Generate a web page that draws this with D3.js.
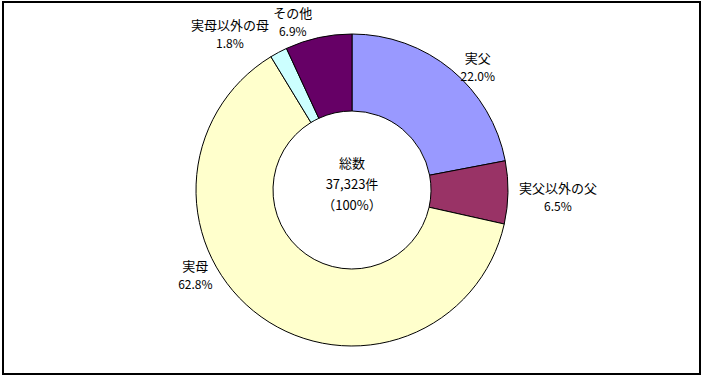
<!DOCTYPE html>
<html>
<head>
<meta charset="utf-8">
<script src="https://cdn.jsdelivr.net/npm/d3@7"></script>
<style>
body { margin: 0; background: #fff; }
svg text { font-family: "Noto Sans CJK JP", "Noto Sans", sans-serif; fill: #000; }
</style>
</head>
<body>
<svg id="chart" width="704" height="378"></svg>
<script>
// data
var categories = ['実父', '実父以外の父', '実母', '実母以外の母', 'その他'];
var percents = [22.0, 6.5, 62.8, 1.8, 6.9];
var colors = ['#9999FF', '#993366', '#FFFFCC', '#CCFFFF', '#660066'];
var totalLines = ['総数', '37,323件', '（100%）'];

var svg = d3.select('#chart');
var cx = 352, cy = 190, outerR = 156, innerR = 79;

svg.append('rect')
	.attr('x', 3).attr('y', 2)
	.attr('width', 697).attr('height', 372)
	.attr('fill', '#fff')
	.attr('stroke', '#000')
	.attr('stroke-width', 2);

var pie = d3.pie().sort(null).value(function(d){ return d; });
var arcs = pie(percents);
var arc = d3.arc().innerRadius(innerR).outerRadius(outerR);

var g = svg.append('g').attr('transform', 'translate(' + cx + ',' + cy + ')');

g.selectAll('path.slice')
	.data(arcs)
	.enter().append('path')
	.attr('class', 'slice')
	.attr('d', arc)
	.attr('fill', function(d, i){ return colors[i]; })
	.attr('stroke', '#000')
	.attr('stroke-width', 1);

// label placement: radius and angle nudge per slice (Excel moves them around a bit)
var labelR = [176, 206, 178, 198, 178];
var angleShift = [6, 1, 26, -10, -7];

var labels = g.selectAll('g.label')
	.data(arcs)
	.enter().append('g')
	.attr('class', 'label')
	.attr('transform', function(d, i){
		var a = (d.startAngle + d.endAngle) / 2 + angleShift[i] * Math.PI / 180;
		var r = labelR[i];
		return 'translate(' + (r * Math.sin(a)) + ',' + (-r * Math.cos(a)) + ')';
	});

labels.append('text')
	.attr('text-anchor', 'middle')
	.attr('y', -4)
	.attr('font-size', 13)
	.text(function(d, i){ return categories[i]; });

labels.append('text')
	.attr('text-anchor', 'middle')
	.attr('y', 14)
	.attr('font-size', 12)
	.text(function(d, i){ return d3.format('.1f')(percents[i]) + '%'; });

g.selectAll('text.total')
	.data(totalLines)
	.enter().append('text')
	.attr('class', 'total')
	.attr('text-anchor', 'middle')
	.attr('font-size', 13)
	.attr('y', function(d, i){ return -22 + i * 21; })
	.text(function(d){ return d; });
</script>
</body>
</html>
